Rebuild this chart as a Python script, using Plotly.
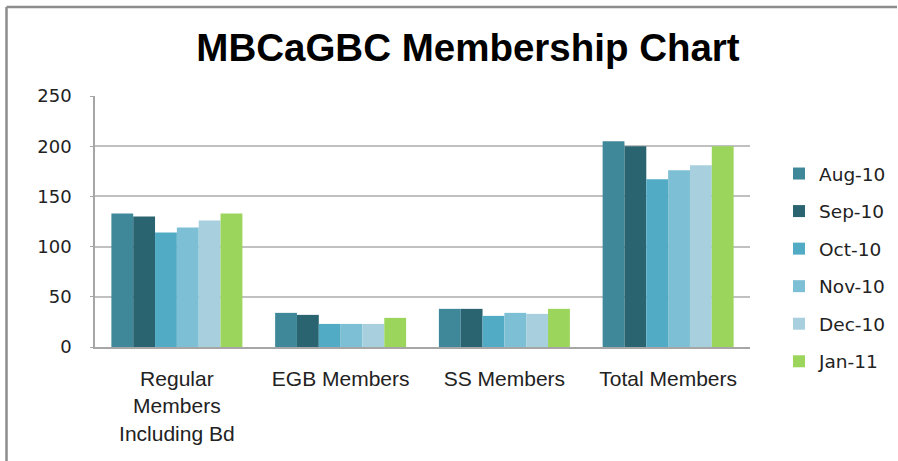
import plotly.graph_objects as go

categories = ["Regular<br>Members<br>Including Bd", "EGB Members", "SS Members", "Total Members"]
months = ["Aug-10", "Sep-10", "Oct-10", "Nov-10", "Dec-10", "Jan-11"]
aug_10 = [133, 34, 38, 205]
sep_10 = [130, 32, 38, 200]
oct_10 = [114, 23, 31, 167]
nov_10 = [119, 23, 34, 176]
dec_10 = [126, 23, 33, 181]
jan_11 = [133, 29, 38, 200]
series = [aug_10, sep_10, oct_10, nov_10, dec_10, jan_11]
colors = ["#3F8899", "#296470", "#52ABC5", "#7DBFD4", "#A8CFDE", "#9BD55C"]
y_ticks = [0, 50, 100, 150, 200, 250]

W, H = 898, 461
L, R, T, B = 95, 148, 96, 114
pw = W - L - R
ph = H - T - B

fig = go.Figure()
for name, vals, col in zip(months, series, colors):
    fig.add_trace(go.Bar(
        x=categories, y=vals, name=name, legendgroup=name,
        marker=dict(color=col, line=dict(width=0)),
    ))

def px_x(p):
    return (p - L) / pw

def px_y(p):
    return (H - B - p) / ph

fig.update_layout(
    width=W, height=H,
    margin=dict(l=L, r=R, t=T, b=B, autoexpand=False),
    paper_bgcolor="white", plot_bgcolor="white",
    barmode="group", bargap=0.2, bargroupgap=0,
    title=dict(text="<b>MBCaGBC Membership Chart</b>", x=468 / W, y=1 - 48 / H,
               xanchor="center", yanchor="middle",
               font=dict(family="Liberation Sans, Arial, sans-serif", size=38.5, color="#000000")),
    legend=dict(x=px_x(779), y=px_y(155), xanchor="left", yanchor="top",
                font=dict(family="DejaVu Sans, Verdana, sans-serif", size=18.5, color="#222222"),
                tracegroupgap=10.5, itemwidth=30, bgcolor="rgba(0,0,0,0)"),
    xaxis=dict(showline=True, linecolor="#A6A6A6", linewidth=1.5,
               tickfont=dict(family="Liberation Sans, Arial, sans-serif", size=21, color="#222222"),
               ticks="", showgrid=False, ticklabelstandoff=12),
    yaxis=dict(range=[0, 250], tickvals=y_ticks, showline=True, linecolor="#A6A6A6", linewidth=1.5,
               gridcolor="#C0C0C0", gridwidth=1.5, ticks="outside", ticklen=3, tickcolor="#A6A6A6",
               tickfont=dict(family="DejaVu Sans, Verdana, sans-serif", size=18, color="#222222"),
               ticklabelstandoff=15, zeroline=False),
    shapes=[
        dict(type="line", xref="paper", yref="paper", x0=px_x(6.5), x1=px_x(897), y0=px_y(7), y1=px_y(7),
             line=dict(color="#8C8C8C", width=2.5)),
        dict(type="line", xref="paper", yref="paper", x0=px_x(6.5), x1=px_x(6.5), y0=px_y(7), y1=px_y(461),
             line=dict(color="#8C8C8C", width=2.5)),
    ],
)

fig.write_html("out.html")
